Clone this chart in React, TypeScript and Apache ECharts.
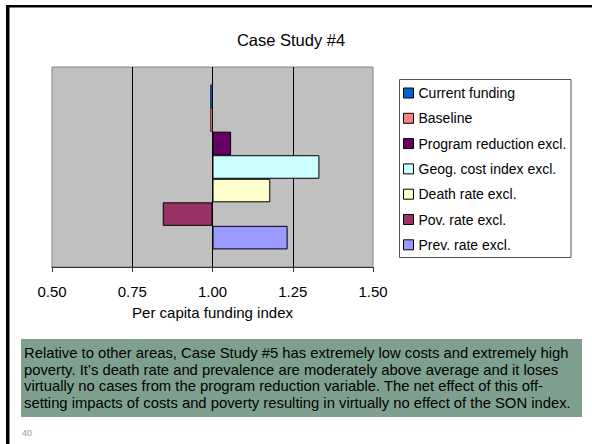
import React, { useEffect, useRef } from "react";
import * as echarts from "echarts";

const seriesNames = [
  "Current funding",
  "Baseline",
  "Program reduction excl.",
  "Geog. cost index excl.",
  "Death rate excl.",
  "Pov. rate excl.",
  "Prev. rate excl.",
];
const seriesValues = [0.993, 0.993, 1.058, 1.333, 1.18, 0.845, 1.234];
const seriesColors = ["#0066CC", "#FF8080", "#660066", "#CCFFFF", "#FFFFCC", "#993366", "#9999FF"];
const seriesBorderWidths = [0.6, 0.6, 1, 1, 1, 1, 1];
const baseline = 1;
const axisMin = 0.5;
const axisMax = 1.5;
const axisStep = 0.25;
const titleText = "Case Study #4";
const axisTitle = "Per capita funding index";
const noteLines = [
  "Relative to other areas, Case Study #5 has extremely low costs and extremely high",
  "poverty. It\u2019s death rate and prevalence are moderately above average and it loses",
  "virtually no cases from the program reduction variable. The net effect of this off-",
  "setting impacts of costs and poverty resulting in virtually no effect of the SON index.",
];
const pageNumber = "40";

const FONT = "'Liberation Sans', Arial, sans-serif";

export default function App() {
  const ref = useRef<HTMLDivElement>(null);
  useEffect(() => {
    if (!ref.current) return;
    const chart = echarts.init(ref.current, null, { renderer: "svg" });
    const series = seriesNames.map((name, i) => ({
      name,
      type: "bar",
      data: [seriesValues[i] - baseline],
      barGap: 0,
      barCategoryGap: "17.6%",
      itemStyle: { color: seriesColors[i], borderColor: "#000", borderWidth: seriesBorderWidths[i] },
    }));
    chart.setOption({
      animation: false,
      backgroundColor: "#fff",
      title: {
        text: titleText,
        left: 291,
        top: 31,
        textAlign: "center",
        padding: 0,
        textStyle: { fontFamily: FONT, fontSize: 16.5, fontWeight: "normal", color: "#000" },
      },
      legend: {
        orient: "vertical",
        left: 403,
        top: 86,
        padding: 0,
        itemWidth: 10,
        itemHeight: 10,
        itemGap: 11.3,
        icon: "rect",
        itemStyle: { borderColor: "#000", borderWidth: 1 },
        textStyle: { fontFamily: FONT, fontSize: 14, color: "#000" },
        data: seriesNames,
      },
      grid: {
        left: 52,
        top: 67,
        width: 321,
        height: 200,
        show: true,
        backgroundColor: "#C0C0C0",
        borderColor: "#808080",
        borderWidth: 1,
        containLabel: false,
      },
      xAxis: {
        type: "value",
        min: axisMin - baseline,
        max: axisMax - baseline,
        interval: axisStep,
        name: axisTitle,
        nameLocation: "middle",
        nameGap: 38,
        nameTextStyle: { fontFamily: FONT, fontSize: 15, color: "#000" },
        axisLine: { show: true, lineStyle: { color: "#333", width: 1 } },
        axisTick: { show: true, length: 5, lineStyle: { color: "#333" } },
        axisLabel: {
          margin: 17,
          fontFamily: FONT,
          fontSize: 15,
          color: "#000",
          formatter: (v: number) => (v + baseline).toFixed(2),
        },
        splitLine: { show: true, showMinLine: false, showMaxLine: false, lineStyle: { color: "#000", width: 1 } },
      },
      yAxis: {
        type: "category",
        data: [""],
        axisLine: { show: false },
        axisTick: { show: false },
        axisLabel: { show: false },
      },
      series,
      graphic: [
        { type: "rect", shape: { x: 6, y: 5, width: 3.5, height: 439 }, style: { fill: "#000" }, silent: true },
        { type: "rect", shape: { x: 6, y: 5, width: 586, height: 2.5 }, style: { fill: "#000" }, silent: true },
        {
          type: "rect",
          shape: { x: 399.5, y: 79.5, width: 171.5, height: 178 },
          style: { fill: "none", stroke: "#555", lineWidth: 1 },
          silent: true,
        },
        { type: "rect", shape: { x: 21, y: 339, width: 561, height: 78 }, style: { fill: "#7FA08F" }, silent: true },
        {
          type: "text",
          x: 24,
          y: 345,
          style: {
            text: noteLines.join("\n"),
            fontFamily: FONT,
            fontSize: 14.8,
            lineHeight: 16.5,
            fill: "#000",
          },
          silent: true,
        },
        {
          type: "text",
          x: 22,
          y: 433,
          style: { text: pageNumber, fontFamily: FONT, fontSize: 9, fill: "#999", verticalAlign: "middle" },
          silent: true,
        },
      ],
    });
    return () => chart.dispose();
  }, []);
  return <div ref={ref} style={{ position: "fixed", left: 0, top: 0, width: 592, height: 444 }} />;
}
